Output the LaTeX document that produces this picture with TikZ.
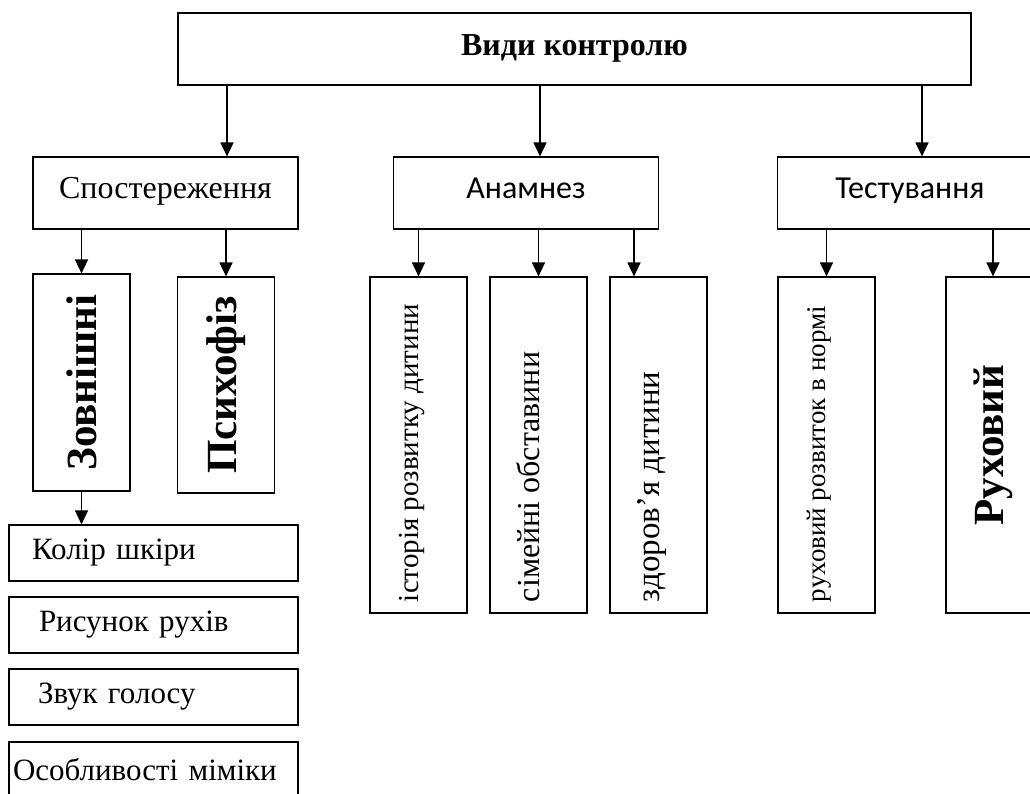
\documentclass[tikz,border=0pt]{standalone}
\usepackage{graphicx}
\usepackage{fontspec}
\setmainfont{Liberation Serif}
\newfontfamily\calibrifont{Carlito}
\usepackage{tikz}
\usetikzlibrary{arrows.meta,positioning}

% rotated text that starts from the bottom of its box
\newcommand\vtxt[1]{\rotatebox{90}{\makebox[314pt][l]{\rule[-20pt]{0pt}{20pt}#1}}}

\begin{document}
\begin{tikzpicture}[x=1pt,y=-1pt,
    box/.style={draw,line width=1.2pt,inner sep=0pt},
    arr/.style={line width=1.6pt,-{Triangle[length=14pt,width=13pt]}},
    txt/.style={font=\fontsize{32}{38}\selectfont},
    sanstxt/.style={font=\calibrifont\fontsize{32}{38}\selectfont},
    boldv/.style={font=\fontsize{43}{50}\selectfont\bfseries},
    lvlbox/.style={box,minimum width=265pt,minimum height=72pt,
                   text height=20pt,text depth=10pt},
    vbox/.style={box,minimum width=97pt},
    lowbox/.style={box,font=\fontsize{31}{37}\selectfont,minimum width=289pt,
                   minimum height=56pt,text width=281pt,align=left,inner xsep=4pt}]
  \useasboundingbox (0,0) rectangle (1030,793);
  \clip (0,0) rectangle (1030,793);

  % top
  \node[box,minimum width=793pt,minimum height=72pt,text height=22pt,text depth=10pt,
        font=\fontsize{32}{38}\selectfont\bfseries]
    (vydy) at (574.5,49) {Види контролю};

  % second row
  \node[lvlbox,txt] (spost) at (165.5,193) {Спостереження};
  \node[lvlbox,sanstxt] (anam) at (526,193) {Анамнез};
  \node[lvlbox,sanstxt] (test) at (910,193) {Тестування};

  \draw[arr] ([xshift=61.5pt]spost.north |- vydy.south) -- ([xshift=61.5pt]spost.north);
  \draw[arr] ([xshift=14pt]anam.north |- vydy.south) -- ([xshift=14pt]anam.north);
  \draw[arr] ([xshift=12pt]test.north |- vydy.south) -- ([xshift=12pt]test.north);

  % vertical boxes
  \node[vbox,minimum height=217pt,boldv] (zovn) at (81.5,382.5)
    {\rotatebox{90}{Зовнішні}};
  \node[vbox,minimum height=216pt,boldv] (psych) at (226,385)
    {\rotatebox{90}{Психофіз}};
  \node[vbox,minimum height=336pt,font=\fontsize{29}{35}\selectfont]
    (ist) at (418.5,445) {\vtxt{історія розвитку дитини}};
  \node[vbox,minimum height=336pt,font=\fontsize{32}{38}\selectfont]
    (sim) at (538.5,445) {\vtxt{сімейні обставини}};
  \node[vbox,minimum height=336pt,font=\fontsize{33}{39}\selectfont]
    (zdor) at (658.5,445) {\vtxt{здоров’я дитини}};
  \node[vbox,minimum height=336pt,font=\fontsize{27}{32}\selectfont]
    (rozv) at (826.5,445) {\vtxt{руховий розвиток в нормі}};
  \node[vbox,minimum height=336pt,minimum width=94pt,boldv]
    (rukh) at (993,445) {\rotatebox{90}{Руховий}};

  \draw[arr] (spost.south -| zovn.north) -- (zovn.north);
  \draw[arr] (spost.south -| psych.north) -- (psych.north);
  \draw[arr] (anam.south -| ist.north) -- (ist.north);
  \draw[arr] (anam.south -| sim.north) -- (sim.north);
  \draw[arr] ([xshift=-24.5pt]zdor.north |- anam.south) -- ([xshift=-24.5pt]zdor.north);
  \draw[arr] (test.south -| rozv.north) -- (rozv.north);
  \draw[arr] (test.south -| rukh.north) -- (rukh.north);

  % signs list
  \node[lowbox] (kolir) at (153.5,553) {\hspace*{19pt}Колір шкіри};
  \node[lowbox] (rysun) at (153.5,625) {\hspace*{26pt}Рисунок рухів};
  \node[lowbox] (zvuk) at (153.5,697) {\hspace*{25pt}Звук голосу};
  \node[lowbox] (osob) at (153.5,770) {Особливості міміки};

  \draw[arr] (zovn.south) -- (kolir.north -| zovn.south);
\end{tikzpicture}
\end{document}
